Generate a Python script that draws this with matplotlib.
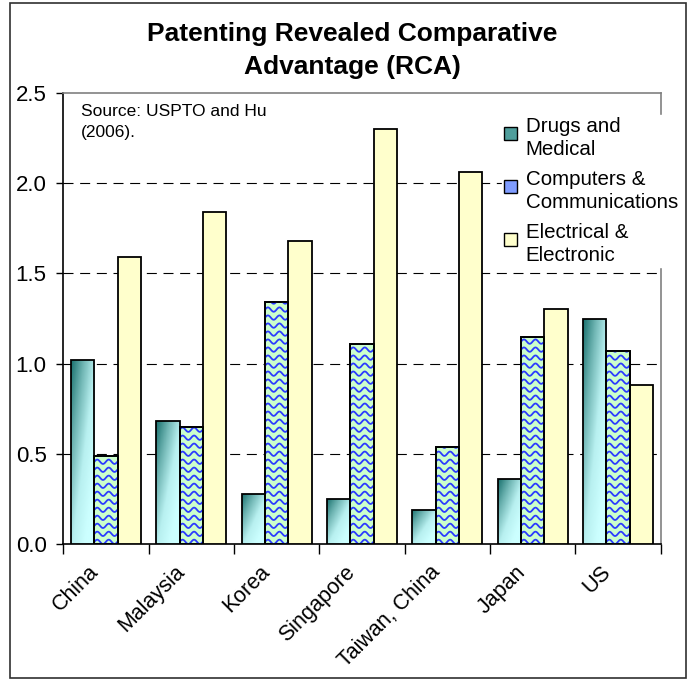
import numpy as np
import matplotlib
matplotlib.use("Agg")
import matplotlib.pyplot as plt
from matplotlib.patches import Patch, Rectangle
from matplotlib.colors import LinearSegmentedColormap
from matplotlib.legend_handler import HandlerPatch
from matplotlib.transforms import ScaledTranslation

plt.rcParams['font.family'] = ['Liberation Sans', 'DejaVu Sans']

countries = ["China", "Malaysia", "Korea", "Singapore", "Taiwan, China", "Japan", "US"]
drugs = [1.02, 0.68, 0.28, 0.25, 0.19, 0.36, 1.25]
computers = [0.49, 0.65, 1.34, 1.11, 0.54, 1.15, 1.07]
electrical = [1.59, 1.84, 1.68, 2.30, 2.06, 1.30, 0.88]
series_names = ["Drugs and\nMedical", "Computers &\nCommunications", "Electrical &\nElectronic"]

fig = plt.figure(figsize=(6.89, 6.79), dpi=100)
ax = fig.add_axes([0.0919, 0.1988, 0.959 - 0.0919, 0.863 - 0.1988])

x = np.arange(len(countries))
w = 0.273
ax.set_xlim(-0.5, len(countries) - 0.5)
ax.set_ylim(0, 2.5)

teal = LinearSegmentedColormap.from_list("teal", ["#1a716e", "#6fb5b3", "#b8f0f0", "#ccffff"])

# drugs: diagonal gradient (dark top-left -> light bottom-right)
bars_d = ax.bar(x - w, drugs, w, facecolor="none", edgecolor="black", linewidth=1.3, zorder=4)
for b in bars_d:
    x0, y0 = b.get_x(), b.get_y()
    bw, bh = b.get_width(), b.get_height()
    gx, gy = np.meshgrid(np.linspace(0, 1, 40), np.linspace(0, 1, 80))
    t = np.clip((gx + (1 - gy)) / 1.6, 0, 1)
    im = ax.imshow(t, extent=[x0, x0 + bw, y0, y0 + bh], origin="lower",
                   cmap=teal, aspect="auto", zorder=3, interpolation="bilinear")
    im.set_clip_path(b)

# computers: green with blue waves
bars_c = ax.bar(x, computers, w, facecolor="#ccffcc", edgecolor="black", linewidth=1.3, zorder=3)
for b in bars_c:
    x0, bw, bh = b.get_x(), b.get_width(), b.get_height()
    xs = np.linspace(x0, x0 + bw, 60)
    for yy in np.arange(0.012, bh + 0.05, 0.0444):
        line, = ax.plot(xs, yy + 0.012 * np.sin(2 * np.pi * (xs - x0) / 0.135),
                        color="#2b3bff", linewidth=1.3, zorder=3.5)
        line.set_clip_path(b)
ax.bar(x, computers, w, facecolor="none", edgecolor="black", linewidth=1.3, zorder=4)

ax.bar(x + w, electrical, w, facecolor="#ffffcc", edgecolor="black", linewidth=1.3, zorder=3)

# grid
for gy in [0.5, 1.0, 1.5, 2.0]:
    ax.axhline(gy, color="black", linewidth=0.8, linestyle=(0, (9, 6)), zorder=1)

# spines
ax.spines['left'].set_color("black")
ax.spines['bottom'].set_color("black")
ax.spines['top'].set_color("#808080")
ax.spines['right'].set_color("#808080")
for s in ax.spines.values():
    s.set_linewidth(1.2)

yt = np.arange(0, 2.51, 0.5)
ax.set_yticks(yt)
ax.set_yticklabels([f"{v:.1f}" for v in yt], fontsize=16)
ax.tick_params(axis='y', direction='out', length=5, width=1, pad=7)
ax.set_xticks(x)
ax.set_xticklabels(countries, fontsize=15.5, rotation=45, ha='right', va='center',
                   rotation_mode='anchor')
ax.tick_params(axis='x', which='major', length=0, pad=18)
for lab in ax.get_xticklabels():
    lab.set_transform(lab.get_transform() + ScaledTranslation(-10 / 100, 0, fig.dpi_scale_trans))
ax.set_xticks(np.arange(-0.5, len(countries), 1), minor=True)
ax.tick_params(axis='x', which='minor', direction='out', length=7, width=1)

ax.text(0.030, 0.976, "Source: USPTO and Hu\n(2006).", transform=ax.transAxes,
        fontsize=12.5, va='top', ha='left', linespacing=1.55)


def top_square(legend, orig_handle, xdescent, ydescent, width, height, fontsize):
    s = 0.62 * fontsize
    return Rectangle((-xdescent, -ydescent + height - s - 0.25 * fontsize), s, s)


handles = [Patch(facecolor="#4f9e9c", edgecolor="black"),
           Patch(facecolor="#7f9cff", edgecolor="black"),
           Patch(facecolor="#ffffcc", edgecolor="black")]
leg = fig.legend(handles, series_names, loc='upper left', bbox_to_anchor=(502 / 689, 1 - 115 / 679),
                 fontsize=14.8, frameon=True, framealpha=1, edgecolor="white", facecolor="white",
                 handlelength=0.75, handleheight=2.2, handletextpad=0.3, labelspacing=0.52,
                 borderaxespad=0, borderpad=0.1,
                 handler_map={Patch: HandlerPatch(patch_func=top_square)})
for t in leg.get_texts():
    t.set_linespacing(1.28)
leg.set_zorder(10)

fig.text(0.511, 1 - 50.5 / 679, "Patenting Revealed Comparative\nAdvantage (RCA)", ha='center',
         va='center', fontsize=19, fontweight='bold', linespacing=1.45)

fig.patches.append(Rectangle((10 / 689, 1 - 678 / 679), 676 / 689, 675 / 679,
                             transform=fig.transFigure, fill=False, edgecolor="#303030", linewidth=1.2))

fig.savefig("out.png", dpi=100)
